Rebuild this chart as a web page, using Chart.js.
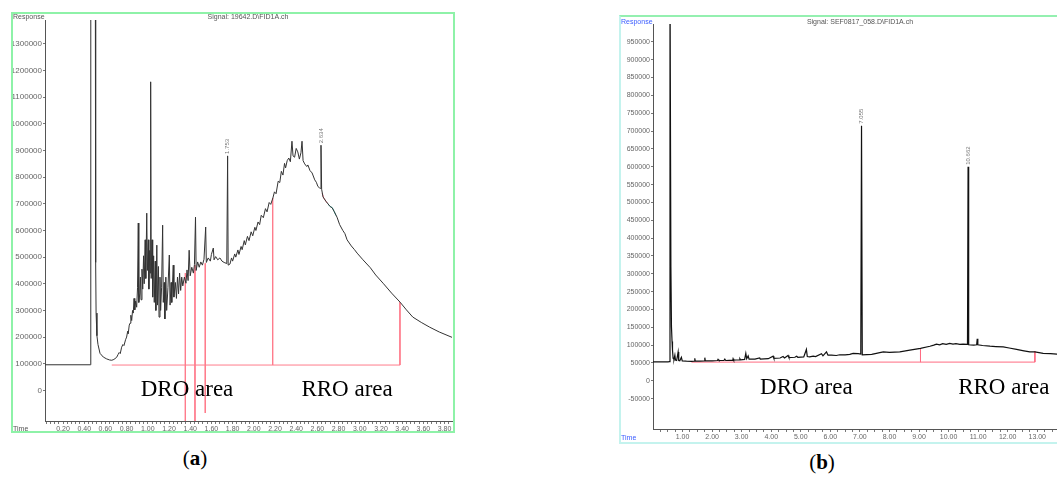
<!DOCTYPE html>
<html>
<head>
<meta charset="utf-8">
<script src="https://cdn.jsdelivr.net/npm/chart.js"></script>
<style>
body { margin: 0; width: 1057px; height: 479px; overflow: hidden; background: #fff; position: relative; font-family: "Liberation Sans", Arial, sans-serif; }
.frame { position: absolute; box-sizing: border-box; }
#frameA { left: 11px; top: 12px; width: 444px; height: 421px; border: 2px solid #8ef2a8; }
#frameB { left: 619px; top: 15px; width: 452px; height: 429px; border: 2px solid #c4f3ee; border-top-color: #94f0b0; }
canvas { position: absolute; left: 0; top: 0; }
.t { position: absolute; white-space: nowrap; line-height: 1; }
.small { font-size: 7px; color: #555; }
.blue { color: #3a5cff; }
.cap { font-family: "Liberation Serif", serif; font-size: 21px; color: #000; transform: translateX(-50%); }
.mid { transform: translateX(-50%); }
</style>
</head>
<body>
<div class="frame" id="frameA"><canvas id="chartA" width="440" height="417"></canvas></div>
<div class="frame" id="frameB"><canvas id="chartB" width="448" height="425"></canvas></div>

<div class="t small" style="left:13px;top:13px;">Response</div>
<div class="t small mid" style="left:248px;top:13px;">Signal: 19642.D\FID1A.ch</div>
<div class="t small" style="left:13px;top:425px;">Time</div>

<div class="t small blue" style="left:621px;top:18px;">Response</div>
<div class="t small mid" style="left:860px;top:18px;">Signal: SEF0817_058.D\FID1A.ch</div>
<div class="t small blue" style="left:621px;top:434px;">Time</div>

<div class="t cap" style="left:195px;top:448px;">(<b>a</b>)</div>
<div class="t cap" style="left:822px;top:452px;">(<b>b</b>)</div>

<script>
// ---- panel (a): retention time (min) and response (x1000 counts)
const timeA = [0.03,0.458,0.462,0.500,0.505,0.508,0.512,0.52,0.53,0.549,0.58,0.612,0.64,0.66,0.68,0.706,0.72,0.73,0.74,0.753,
  0.765,0.775,0.79,0.80,0.81,0.815,0.825,0.832,0.84,0.848,0.856,0.863,0.87,0.877,0.885,0.895,0.903,0.91,0.915,0.925,
  0.93,0.936,0.945,0.952,0.96,0.966,0.975,0.981,0.99,0.996,1.005,1.01,1.018,1.022,1.027,1.032,1.04,1.046,1.055,1.061,
  1.07,1.076,1.085,1.091,1.10,1.106,1.115,1.121,1.13,1.14,1.146,1.155,1.161,1.17,1.178,1.19,1.203,1.21,1.22,1.226,
  1.24,1.246,1.26,1.27,1.28,1.29,1.30,1.31,1.32,1.33,1.345,1.36,1.37,1.38,1.39,1.40,1.415,1.43,1.44,1.45,
  1.456,1.47,1.485,1.50,1.515,1.53,1.546,1.552,1.57,1.59,1.60,1.618,1.625,1.64,1.66,1.68,1.70,1.72,1.745,1.753,
  1.758,1.775,1.79,1.80,1.82,1.83,1.85,1.86,1.88,1.89,1.91,1.92,1.94,1.955,1.975,1.99,2.01,2.02,2.04,2.055,
  2.07,2.09,2.11,2.125,2.145,2.16,2.18,2.195,2.21,2.23,2.245,2.26,2.275,2.29,2.30,2.315,2.33,2.345,2.36,2.37,
  2.385,2.40,2.415,2.43,2.445,2.455,2.465,2.48,2.50,2.51,2.53,2.55,2.575,2.59,2.605,2.62,2.628,2.634,2.64,2.653,
  2.68,2.70,2.72,2.74,2.76,2.785,2.81,2.84,2.86,2.88,2.92,2.95,2.975,3.03,3.10,3.15,3.22,3.30,3.38,3.44,
  3.50,3.58,3.66,3.75,3.87];
const respA = [96,96,1700,1700,1500,480,290,205,172,139,125,118,114,113,116,124,135,142,138,162,
  172,168,190,200,222,212,245,252,282,262,300,290,345,302,335,312,385,628,330,365,
  425,340,455,380,505,400,565,420,665,450,565,380,525,440,1158,420,565,350,505,330,
  485,300,545,320,465,275,425,300,385,620,330,405,268,425,300,385,508,320,405,330,
  470,350,405,345,425,362,440,375,425,392,425,402,452,412,526,430,462,440,472,650,
  450,482,462,482,470,492,613,480,497,485,510,534,490,502,490,497,485,480,476,880,
  470,474,497,485,512,500,527,510,540,528,562,546,578,562,595,580,612,600,632,622,
  657,648,682,670,705,698,722,745,738,785,780,822,808,852,835,862,872,858,935,880,
  875,908,895,868,892,935,862,850,840,846,825,816,790,781,765,760,758,920,755,726,
  710,700,690,685,670,650,622,600,588,565,542,528,515,490,460,433,402,365,331,302,
  275,255,237,219,199];
// integration marks (red): baseline and drop lines
const baseA = [[0.66, 95], [3.38, 95]];
const dropA_t = [1.354, 1.445, 1.542, 2.178, 3.379];
const dropA_top = [440, 470, 477, 722, 331];
const dropA_bottom = [-124, -124, -85, 95, 95];
const tealA_t = [2.695, 2.72, 2.74, 2.76, 2.775];
const tealA_v = [702, 690, 686, 670, 656];
const pinkA_t = [2.645, 2.66, 2.68, 2.695];
const pinkA_v = [740, 722, 710, 702];
const yTicksA = [0,100000,200000,300000,400000,500000,600000,700000,800000,900000,1000000,1100000,1200000,1300000];
const xLabelsA = [0.2,0.4,0.6,0.8,1.0,1.2,1.4,1.6,1.8,2.0,2.2,2.4,2.6,2.8,3.0,3.2,3.4,3.6,3.8];

// ---- panel (b)
const timeB = [0,0.30,0.52,0.545,0.575,0.605,0.625,0.645,0.66,0.68,0.71,0.74,0.76,0.80,0.85,0.87,0.907,0.96,0.99,1.13,
  1.30,1.40,1.414,1.43,1.60,1.74,1.753,1.77,2.0,2.18,2.20,2.23,2.40,2.43,2.46,2.70,2.71,2.73,2.93,2.94,
  2.96,3.10,3.14,3.17,3.22,3.25,3.45,3.61,3.63,3.90,4.065,4.09,4.30,4.40,4.45,4.57,4.60,4.80,4.86,4.90,
  5.10,5.19,5.22,5.30,5.42,5.50,5.70,5.75,5.87,5.92,6.04,6.20,6.32,6.50,6.66,6.77,6.94,7.03,7.055,7.08,
  7.40,7.79,8.0,8.35,8.69,9.05,9.37,9.50,9.59,9.70,9.80,9.92,10.04,10.15,10.25,10.38,10.49,10.64,10.66,10.68,
  10.85,10.95,10.97,10.99,11.15,11.40,11.60,11.85,12.05,12.30,12.55,12.75,12.92,13.2,13.45,13.77];
const respB = [53,53,53,54,1150,320,151,110,86,63,60,72,58,57,81,57,56,66,56,55,
  54.5,55,63,55,55,56,65,56,56,57,60,57,57,61,57,58,62,58,59,62,
  59,60,77,62,70,61,61,64,61,62,69,63,64,68,64,71,65,66,69,66,
  67,88,68,67,69,68,76,70,81,72,72,71,73,73,74,77,76,75,715,73,
  74,81,80,81,86,91,97,100,103,101,104,102,105,103,104,102,103,102,600,101,
  100,101,118,101,99,97,96,95,92,88,84,81,81,77,76,74];
const baseB = [[1.30, 52.5], [12.92, 52.5]];
const dropB_t = [9.05, 12.92];
const dropB_top = [91, 83];
const dropB_bottom = [52.5, 52.5];
const yTicksB = [-50000,0,50000,100000,150000,200000,250000,300000,350000,400000,450000,500000,
  550000,600000,650000,700000,750000,800000,850000,900000,950000];
const xLabelsB = [1,2,3,4,5,6,7,8,9,10,11,12,13];

const K = 1000;

function toPoints(ts, vs) {
  return ts.map((t, i) => ({ x: t, y: vs[i] * K }));
}

function marks(base, dt, top, bottom) {
  const pts = base.map(p => ({ x: p[0], y: p[1] * K }));
  dt.forEach((t, i) => {
    pts.push({ x: t, y: null });
    pts.push({ x: t, y: top[i] * K });
    pts.push({ x: t, y: bottom[i] * K });
  });
  return pts;
}

function isLabel(list, v) {
  return list.some(l => Math.abs(l - v) < 1e-6);
}

// retention-time and area captions drawn on the canvas
const notesPlugin = {
  id: 'notes',
  afterDatasetsDraw(chart, args, opts) {
    const ctx = chart.ctx;
    const x = chart.scales.x, y = chart.scales.y;
    ctx.save();
    ctx.fillStyle = '#000';
    ctx.font = '23px "Liberation Serif", serif';
    ctx.textAlign = 'center';
    ctx.textBaseline = 'middle';
    (opts.areas || []).forEach(a => {
      ctx.fillText(a.text, x.getPixelForValue(a.t), y.getPixelForValue(a.v * K));
    });
    ctx.font = '6px "Liberation Sans", sans-serif';
    ctx.fillStyle = '#777';
    ctx.textAlign = 'left';
    (opts.peaks || []).forEach(p => {
      ctx.save();
      ctx.translate(x.getPixelForValue(p.t), y.getPixelForValue(p.v * K) - 2);
      ctx.rotate(-Math.PI / 2);
      ctx.fillText(p.text, 0, 0);
      ctx.restore();
    });
    ctx.restore();
  }
};

function makeChart(id, cfg) {
  const minor = [];
  for (let v = cfg.minorStep; v < cfg.xMax; v += cfg.minorStep) minor.push(+v.toFixed(3));
  return new Chart(document.getElementById(id), {
    type: 'line',
    data: { datasets: cfg.datasets },
    options: {
      responsive: false,
      animation: false,
      layout: { padding: { top: cfg.padTop, right: cfg.padRight, left: 0, bottom: 0 } },
      elements: { point: { radius: 0 }, line: { tension: 0 } },
      plugins: {
        legend: { display: false },
        tooltip: { enabled: false },
        notes: { areas: cfg.areas, peaks: cfg.peaks }
      },
      scales: {
        x: {
          type: 'linear', min: cfg.xMin, max: cfg.xMax,
          afterBuildTicks: s => { s.ticks = minor.map(v => ({ value: v })); },
          afterFit: s => { s.height = cfg.xHeight; },
          grid: { drawOnChartArea: false, tickLength: 3, color: '#777' },
          border: { color: '#555' },
          ticks: {
            autoSkip: false, maxRotation: 0, padding: 1,
            font: { size: 7, family: 'Liberation Sans' }, color: '#666',
            callback: v => isLabel(cfg.xLabels, v) ? v.toFixed(2) : ''
          }
        },
        y: {
          type: 'linear', min: cfg.yMin, max: cfg.yMax,
          afterBuildTicks: s => { s.ticks = cfg.yTicks.map(v => ({ value: v })); },
          afterFit: s => { s.width = 32; },
          grid: { drawOnChartArea: false, tickLength: 2, color: '#777' },
          border: { color: '#555' },
          ticks: { padding: 1, font: { size: cfg.yFont, family: 'Liberation Sans' }, color: '#666', callback: v => String(v) }
        }
      }
    },
    plugins: [notesPlugin]
  });
}

makeChart('chartA', {
  xMin: 0.03, xMax: 3.87, yMin: -115000, yMax: 1390000,
  minorStep: 0.04, xLabels: xLabelsA, yTicks: yTicksA, yFont: 8,
  padTop: 6, padRight: 1, xHeight: 10,
  datasets: [
    { data: toPoints(timeA, respA), borderColor: '#333', borderWidth: 1 },
    { data: marks(baseA, dropA_t, dropA_top, dropA_bottom), borderColor: '#ff7c8c', borderWidth: 1 },
    { data: toPoints(pinkA_t, pinkA_v), borderColor: '#ff7c8c', borderWidth: 1 },
    { data: toPoints(tealA_t, tealA_v), borderColor: '#3cc0b4', borderWidth: 1 }
  ],
  areas: [{ text: 'DRO area', t: 1.37, v: 0 }, { text: 'RRO area', t: 2.88, v: 0 }],
  peaks: [{ text: '1.753', t: 1.753, v: 880 }, { text: '2.634', t: 2.634, v: 920 }]
});

makeChart('chartB', {
  xMin: 0, xMax: 13.77, yMin: -135000, yMax: 1000000,
  minorStep: 0.25, xLabels: xLabelsB, yTicks: yTicksB, yFont: 7,
  padTop: 7, padRight: 9, xHeight: 13,
  datasets: [
    { data: toPoints(timeB, respB), borderColor: '#111', borderWidth: 1.2 },
    { data: marks(baseB, dropB_t, dropB_top, dropB_bottom), borderColor: '#ff6c82', borderWidth: 1 }
  ],
  areas: [{ text: 'DRO area', t: 5.19, v: -20.5 }, { text: 'RRO area', t: 11.87, v: -20.5 }],
  peaks: [{ text: '7.055', t: 7.055, v: 715 }, { text: '10.662', t: 10.66, v: 600 }]
});
</script>
</body>
</html>
